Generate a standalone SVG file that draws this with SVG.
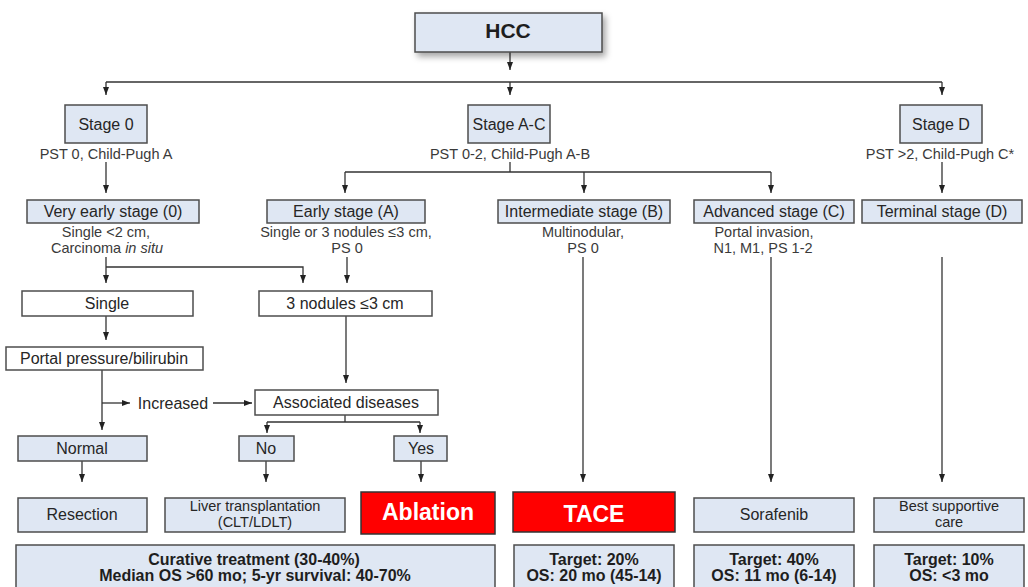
<svg xmlns="http://www.w3.org/2000/svg" width="1028" height="587" viewBox="0 0 1028 587">
<defs>
<style>
.b{fill:#dfe7f3;stroke:#4d4d4d;stroke-width:1.5}
.w{fill:#ffffff;stroke:#4d4d4d;stroke-width:1.5}
.r{fill:#ff0000;stroke:#333333;stroke-width:1.5}
.t{font-family:"Liberation Sans",Arial,sans-serif;font-size:16px;fill:#262626;text-anchor:middle}
.t2{font-family:"Liberation Sans",Arial,sans-serif;font-size:14.5px;fill:#262626;text-anchor:middle}
.s{font-family:"Liberation Sans",Arial,sans-serif;font-size:14.5px;fill:#3a3a3a;text-anchor:middle}
.bt{font-family:"Liberation Sans",Arial,sans-serif;font-size:16px;font-weight:bold;fill:#1e1e1e;text-anchor:middle}
.rt{font-family:"Liberation Sans",Arial,sans-serif;font-size:23px;font-weight:bold;fill:#ffffff;text-anchor:middle}
.c path{fill:none;stroke:#333333;stroke-width:1.3}
</style>
<marker id="a" markerUnits="userSpaceOnUse" markerWidth="8" markerHeight="8" refX="8" refY="3" orient="auto">
<path d="M0,0 L8,3 L0,6 z" fill="#222222"/>
</marker>
<filter id="sh" x="-10%" y="-30%" width="125%" height="180%">
<feDropShadow dx="3" dy="4" stdDeviation="3" flood-color="#000000" flood-opacity="0.35"/>
</filter>
</defs>
<rect width="1028" height="587" fill="#ffffff"/>

<g class="c" id="connectors">
<path d="M510,52 V70" marker-end="url(#a)"/>
<path d="M106,82 H942"/>
<path d="M106,82 V95" marker-end="url(#a)"/>
<path d="M510,82 V95" marker-end="url(#a)"/>
<path d="M942,82 V95" marker-end="url(#a)"/>
<path d="M106,162 V193" marker-end="url(#a)"/>
<path d="M510,162 V172"/>
<path d="M345,172 H771"/>
<path d="M345,172 V193" marker-end="url(#a)"/>
<path d="M584,172 V193" marker-end="url(#a)"/>
<path d="M771,172 V193" marker-end="url(#a)"/>
<path d="M942,162 V193" marker-end="url(#a)"/>
<path d="M106,257 V283" marker-end="url(#a)"/>
<path d="M106,267 H303 V283" marker-end="url(#a)"/>
<path d="M347,257 V283" marker-end="url(#a)"/>
<path d="M106,316 V340" marker-end="url(#a)"/>
<path d="M346,316 V383" marker-end="url(#a)"/>
<path d="M102,370 V430" marker-end="url(#a)"/>
<path d="M102,403 H130" marker-end="url(#a)"/>
<path d="M213,403 H252" marker-end="url(#a)"/>
<path d="M345,415 V422"/>
<path d="M267,422 H420"/>
<path d="M267,422 V433" marker-end="url(#a)"/>
<path d="M420,422 V433" marker-end="url(#a)"/>
<path d="M82,461 V482" marker-end="url(#a)"/>
<path d="M266,461 V482" marker-end="url(#a)"/>
<path d="M421,461 V482" marker-end="url(#a)"/>
<path d="M583,257 V482" marker-end="url(#a)"/>
<path d="M771,257 V482" marker-end="url(#a)"/>
<path d="M942,257 V482" marker-end="url(#a)"/>
</g>

<g id="hcc"><rect class="b" x="415" y="13" width="187" height="39" filter="url(#sh)"/><text class="bt" x="508" y="38" style="font-size:21px">HCC</text></g>

<g id="stage0"><rect class="b" x="65" y="105" width="82" height="38"/><text class="t" x="106" y="130">Stage 0</text><text class="s" x="106" y="159">PST 0, Child-Pugh A</text></g>
<g id="stageAC"><rect class="b" x="468" y="105" width="82" height="38"/><text class="t" x="509" y="130">Stage A-C</text><text class="s" x="510" y="159">PST 0-2, Child-Pugh A-B</text></g>
<g id="stageD"><rect class="b" x="900" y="105" width="82" height="38"/><text class="t" x="941" y="130">Stage D</text><text class="s" x="940" y="159">PST &gt;2, Child-Pugh C*</text></g>

<g id="veryearly"><rect class="b" x="27" y="200" width="172" height="23"/><text class="t" x="113" y="217">Very early stage (0)</text><text class="s" x="106" y="237">Single &lt;2 cm,</text><text class="s" x="107" y="253">Carcinoma <tspan font-style="italic">in situ</tspan></text></g>
<g id="early"><rect class="b" x="267" y="200" width="158" height="23"/><text class="t" x="346" y="217">Early stage (A)</text><text class="s" x="346" y="237">Single or 3 nodules ≤3 cm,</text><text class="s" x="347" y="253">PS 0</text></g>
<g id="intermediate"><rect class="b" x="498" y="200" width="172" height="23"/><text class="t" x="584" y="217">Intermediate stage (B)</text><text class="s" x="583" y="237">Multinodular,</text><text class="s" x="583" y="253">PS 0</text></g>
<g id="advanced"><rect class="b" x="694" y="200" width="160" height="23"/><text class="t" x="774" y="217">Advanced stage (C)</text><text class="s" x="764" y="237">Portal invasion,</text><text class="s" x="763" y="253">N1, M1, PS 1-2</text></g>
<g id="terminal"><rect class="b" x="862" y="200" width="160" height="23"/><text class="t" x="942" y="217">Terminal stage (D)</text></g>

<g id="single"><rect class="w" x="22" y="291" width="171" height="25"/><text class="t" x="107" y="309">Single</text></g>
<g id="threenod"><rect class="w" x="259" y="291" width="173" height="25"/><text class="t" x="345" y="309">3 nodules ≤3 cm</text></g>
<g id="portal"><rect class="w" x="6" y="347" width="197" height="23"/><text class="t" x="104" y="364">Portal pressure/bilirubin</text></g>
<g id="increased"><text class="t" x="173" y="409">Increased</text></g>
<g id="assoc"><rect class="w" x="255" y="390" width="183" height="25"/><text class="t" x="346" y="408">Associated diseases</text></g>

<g id="normal"><rect class="b" x="18" y="436" width="129" height="25"/><text class="t" x="82" y="454">Normal</text></g>
<g id="no"><rect class="b" x="239" y="436" width="55" height="25"/><text class="t" x="266" y="454">No</text></g>
<g id="yes"><rect class="b" x="394" y="436" width="53" height="25"/><text class="t" x="421" y="454">Yes</text></g>

<g id="resection"><rect class="b" x="18" y="498" width="129" height="34"/><text class="t" x="82" y="520">Resection</text></g>
<g id="liver"><rect class="b" x="165" y="498" width="180" height="34"/><text class="t2" x="255" y="511">Liver transplantation</text><text class="t2" x="255" y="527">(CLT/LDLT)</text></g>
<g id="ablation"><rect class="r" x="361" y="492" width="134" height="42"/><text class="rt" x="428" y="520">Ablation</text></g>
<g id="tace"><rect class="r" x="513" y="492" width="162" height="40"/><text class="rt" x="594" y="522">TACE</text></g>
<g id="sorafenib"><rect class="b" x="694" y="498" width="160" height="34"/><text class="t" x="774" y="520">Sorafenib</text></g>
<g id="bsc"><rect class="b" x="874" y="498" width="150" height="34"/><text class="t2" x="949" y="511">Best supportive</text><text class="t2" x="949" y="527">care</text></g>

<g id="curative"><rect class="b" x="16" y="545" width="479" height="52"/><text class="bt" x="254" y="565">Curative treatment (30-40%)</text><text class="bt" x="255" y="581">Median OS &gt;60 mo; 5-yr survival: 40-70%</text></g>
<g id="target20"><rect class="b" x="514" y="545" width="160" height="52"/><text class="bt" x="594" y="565">Target: 20%</text><text class="bt" x="594" y="581">OS: 20 mo (45-14)</text></g>
<g id="target40"><rect class="b" x="694" y="545" width="160" height="52"/><text class="bt" x="774" y="565">Target: 40%</text><text class="bt" x="774" y="581">OS: 11 mo (6-14)</text></g>
<g id="target10"><rect class="b" x="874" y="545" width="150" height="52"/><text class="bt" x="949" y="565">Target: 10%</text><text class="bt" x="949" y="581">OS: &lt;3 mo</text></g>
</svg>
